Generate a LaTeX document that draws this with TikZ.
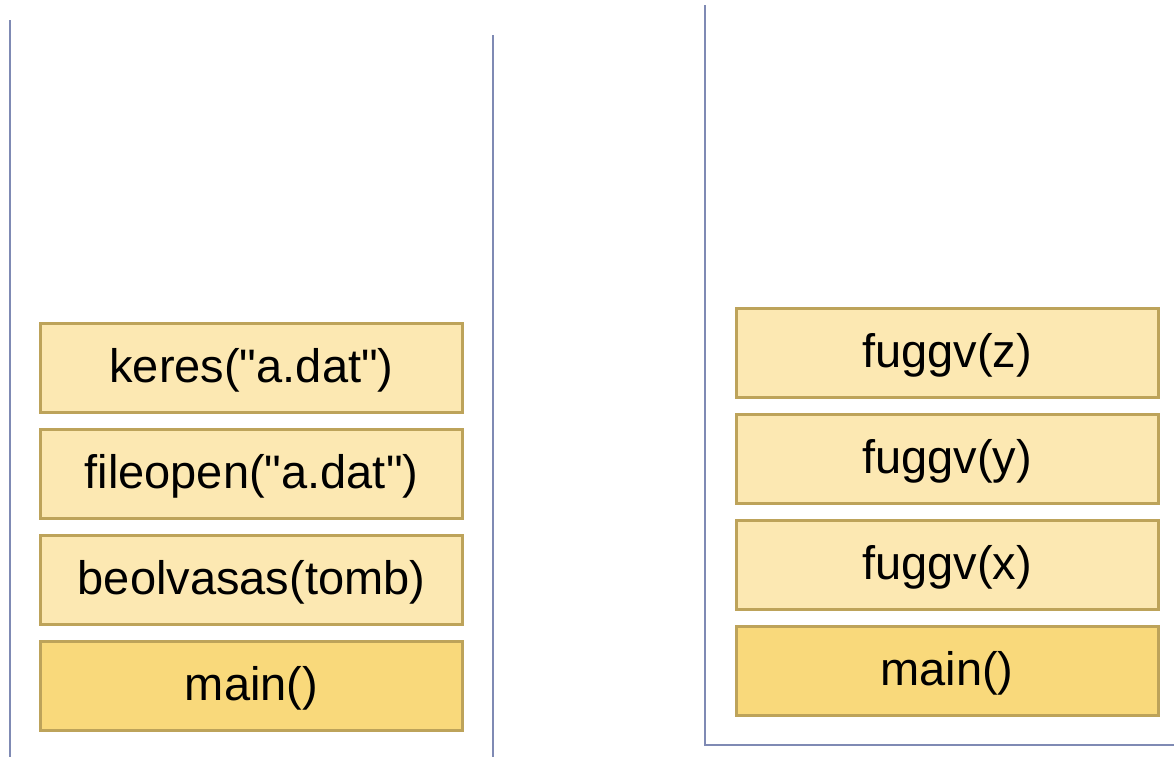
\documentclass[tikz,border=0pt]{standalone}
\usepackage{fontspec}
\setmainfont{Liberation Sans}
\usetikzlibrary{positioning}

\definecolor{framegold}{HTML}{BDA35A}
\definecolor{callfill}{HTML}{FCE8B2}
\definecolor{mainfill}{HTML}{F9D97B}
\definecolor{wallblue}{HTML}{7F8AB4}

\begin{document}
\begin{tikzpicture}[x=0.5pt,y=-0.5pt,node distance=8.5pt,
    frame/.style={draw=framegold,line width=1.5pt,minimum width=211pt,minimum height=44.5pt,
        inner sep=0pt,outer sep=0pt,text height=19pt,text depth=4pt,
        font=\fontsize{23.5}{28}\selectfont},
    call/.style={frame,fill=callfill},
    base/.style={frame,fill=mainfill},
    wall/.style={draw=wallblue,line width=1pt}]
    \useasboundingbox (0,0) rectangle (1174,757);

    % first stack
    \draw[wall] (10,20) -- (10,757);
    \draw[wall] (493,35) -- (493,757);
    \node[call] (keres) at (251.5,367.5) {keres(\textquotedbl a.dat\textquotedbl)};
    \node[call] (fileopen) [below=of keres] {fileopen(\textquotedbl a.dat\textquotedbl)};
    \node[call] (beolv) [below=of fileopen] {beolvasas(tomb)};
    \node[base] (main1) [below=of beolv] {main()};

    % second stack
    \draw[wall] (705,5) -- (705,745) -- (1174,745);
    \node[call] (fz) at (947,352.5) {fuggv(z)};
    \node[call] (fy) [below=of fz] {fuggv(y)};
    \node[call] (fx) [below=of fy] {fuggv(x)};
    \node[base] (main2) [below=of fx] {main()};
\end{tikzpicture}
\end{document}
